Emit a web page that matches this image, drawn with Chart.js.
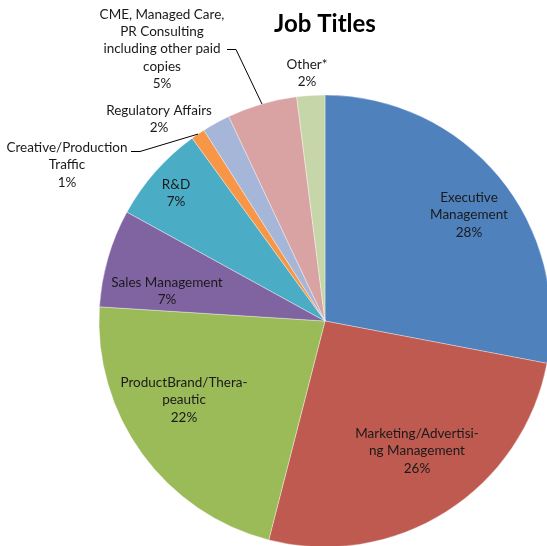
<!DOCTYPE html>
<html>
<head>
<meta charset="utf-8">
<script src="https://cdn.jsdelivr.net/npm/chart.js@4.4.0/dist/chart.umd.min.js"></script>
<style>
  html, body { margin: 0; padding: 0; background: #fff; }
  #wrap { width: 547px; height: 546px; }
</style>
</head>
<body>
<div id="wrap"><canvas id="pie"></canvas></div>
<script>
// data
const categories = [
    "Executive Management",
    "Marketing/Advertising Management",
    "ProductBrand/Therapeautic",
    "Sales Management",
    "R&D",
    "Creative/Production Traffic",
    "Regulatory Affairs",
    "CME, Managed Care, PR Consulting including other paid copies",
    "Other*"
];
const shares = [28, 26, 22, 7, 7, 1, 2, 5, 2];
// label text as wrapped in the picture
const labelLines = [
    ["Executive", "Management"],
    ["Marketing/Advertisi-", "ng Management"],
    ["ProductBrand/Thera-", "peautic"],
    ["Sales Management"],
    ["R&D"],
    ["Creative/Production", "Traffic"],
    ["Regulatory Affairs"],
    ["CME, Managed Care,", "PR Consulting", "including other paid", "copies"],
    ["Other*"]
];

const sliceColors = ["#4F81BD", "#BE5A4F", "#9BBB59", "#8064A2", "#4BACC6",
                     "#F79646", "#A6B6D8", "#D8A3A2", "#C7D6A8"];

// label placement relative to pie centre (px), leader = start of leader line
const labelPlaces = [
    { dx: 144, dy: -106 },
    { dx: 92, dy: 130 },
    { dx: -141, dy: 79 },
    { dx: -158, dy: -30 },
    { dx: -149, dy: -128 },
    { dx: -258, dy: -156, leader: { dx: -194, dy: -170 } },
    { dx: -166, dy: -202 },
    { dx: -163, dy: -272, leader: { dx: -98, dy: -272 } },
    { dx: -18, dy: -248 }
];

/* ---------------- LABEL PLUGIN ---------------- */

const sliceLabels = {
    id: "sliceLabels",
    afterDatasetsDraw(chart, args, opts) {
        const ctx = chart.ctx;
        const arcs = chart.getDatasetMeta(0).data;
        ctx.save();
        ctx.font = opts.font;
        ctx.fillStyle = opts.color;
        ctx.textAlign = "center";
        ctx.textBaseline = "middle";

        arcs.forEach((arc, i) => {
            const p = labelPlaces[i];
            const lines = labelLines[i].concat(shares[i] + "%");
            const top = arc.y + p.dy - (lines.length - 1) * opts.lineHeight / 2;
            lines.forEach((t, k) => ctx.fillText(t, arc.x + p.dx, top + k * opts.lineHeight));

            if (p.leader) {
                const mid = (arc.startAngle + arc.endAngle) / 2;
                const ex = arc.x + Math.cos(mid) * arc.outerRadius;
                const ey = arc.y + Math.sin(mid) * arc.outerRadius;
                const sx = arc.x + p.leader.dx;
                const sy = arc.y + p.leader.dy;
                ctx.beginPath();
                ctx.strokeStyle = opts.lineColor;
                ctx.lineWidth = 1;
                ctx.moveTo(sx, sy + 0.5);
                ctx.lineTo(sx + 9, sy + 0.5);
                ctx.lineTo(ex, ey);
                ctx.stroke();
            }
        });
        ctx.restore();
    }
};

/* ---------------- CHART ---------------- */

new Chart(document.getElementById("pie"), {
    type: "pie",
    data: {
        labels: categories,
        datasets: [{
            data: shares,
            backgroundColor: sliceColors,
            borderColor: "rgba(255,255,255,0.6)",
            borderWidth: 0.6,
            radius: 226,
            clip: false
        }]
    },
    options: {
        responsive: true,
        maintainAspectRatio: false,
        animation: false,
        layout: { padding: { left: 103, right: 0, top: 0, bottom: 0 } },
        plugins: {
            legend: { display: false },
            tooltip: { enabled: false },
            title: {
                display: true,
                text: "Job Titles",
                color: "#000",
                font: { family: "Lato", size: 24, weight: "bold" },
                padding: { top: 10, bottom: 57.2 }
            },
            sliceLabels: {
                font: "13.5px Lato",
                color: "#1a1a1a",
                lineColor: "#000",
                lineHeight: 17.3
            }
        }
    },
    plugins: [sliceLabels]
});
</script>
</body>
</html>
